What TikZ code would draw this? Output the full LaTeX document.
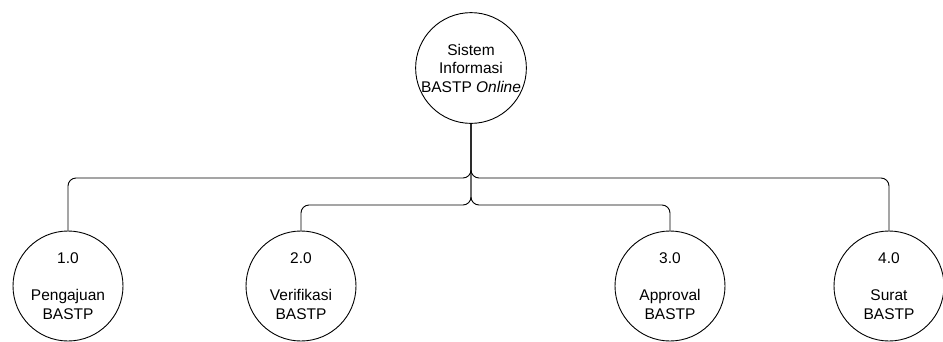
\documentclass[tikz,border=0pt]{standalone}
\usepackage{fontspec}
\setmainfont{Liberation Sans}
\usetikzlibrary{positioning}

\tikzset{
	proses/.style={draw, circle, minimum size=110pt, inner sep=0pt, align=center, line width=0.9pt},
	alur/.style={line width=0.9pt, rounded corners=8pt}
}

\begin{document}
\begin{tikzpicture}[x=1pt, y=-1pt, font=\fontsize{15.5}{18.5}\selectfont]
			\useasboundingbox (0,0) rectangle (943,341);
			
			% sistem utama
			\node[proses] (S) at (471,68) {Sistem\\Informasi\\BASTP \textit{Online}};
			
			% proses 1.0 - 4.0
			\node[proses] (P1) at (68,286) {1.0\\[19pt]Pengajuan\\BASTP};
			\node[proses] (P2) at (301,286) {2.0\\[19pt]Verifikasi\\BASTP};
			\node[proses] (P3) at (670,286) {3.0\\[19pt]Approval\\BASTP};
			\node[proses] (P4) at (889,286) {4.0\\[19pt]Surat\\BASTP};
			
			% titik cabang
			\coordinate (hA) at (471,178);
			\coordinate (hB) at (471,205);
			
			% alur luar
			\draw[alur] (S.south) -- (hA) -| (P1.north);
			\draw[alur] (S.south) -- (hA) -| (P4.north);
			
			% alur dalam
			\draw[alur] (S.south) -- (hB) -| (P2.north);
			\draw[alur] (S.south) -- (hB) -| (P3.north);
		\end{tikzpicture}
\end{document}
